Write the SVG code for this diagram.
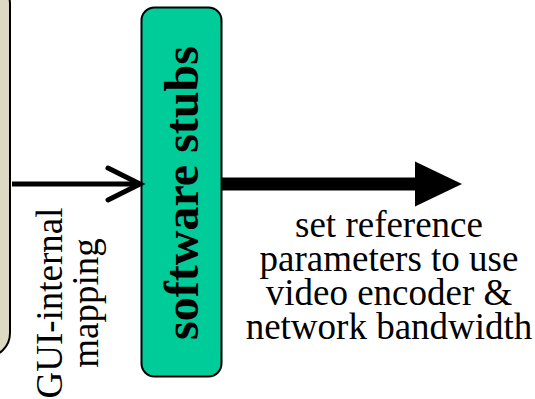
<svg xmlns="http://www.w3.org/2000/svg" width="535" height="399" viewBox="0 0 535 399">
  <style>
    .lbl { font-family: "Liberation Serif", "Times New Roman", serif; font-size: 37px; fill: #000; text-anchor: middle; }
    .big { font-family: "Liberation Serif", "Times New Roman", serif; font-size: 48px; font-weight: bold; fill: #000; text-anchor: middle; }
  </style>
  <rect width="535" height="399" fill="#ffffff"/>
  <g id="gui-box">
    <rect x="-100" y="-20" width="110" height="377" rx="24" ry="24" fill="#DDD9C3" stroke="#000" stroke-width="2"/>
  </g>
  <g id="software-stubs">
    <rect x="141.5" y="7.5" width="80" height="369" rx="13" ry="13" fill="#00CC99" stroke="#000" stroke-width="2"/>
    <text class="big" transform="translate(198,193) rotate(-90)">software stubs</text>
  </g>
  <g id="connectors">
    <line x1="12" y1="184" x2="139" y2="184" stroke="#000" stroke-width="5"/>
    <polyline points="108,168 140,184 108,200" fill="none" stroke="#000" stroke-width="5" stroke-linecap="round" stroke-linejoin="miter"/>
    <rect x="222" y="177.5" width="194" height="13" fill="#000"/>
    <polygon points="415,161.5 462,184 415,206.5" fill="#000"/>
  </g>
  <g id="labels">
    <text class="lbl" transform="translate(62,303) rotate(-90)">GUI-internal</text>
    <text class="lbl" transform="translate(98,303) rotate(-90)">mapping</text>
    <text class="lbl" x="389" y="237">set reference<tspan x="389" dy="34">parameters to use</tspan><tspan x="389" dy="34">video encoder &amp;</tspan><tspan x="389" dy="34">network bandwidth</tspan></text>
  </g>
</svg>
